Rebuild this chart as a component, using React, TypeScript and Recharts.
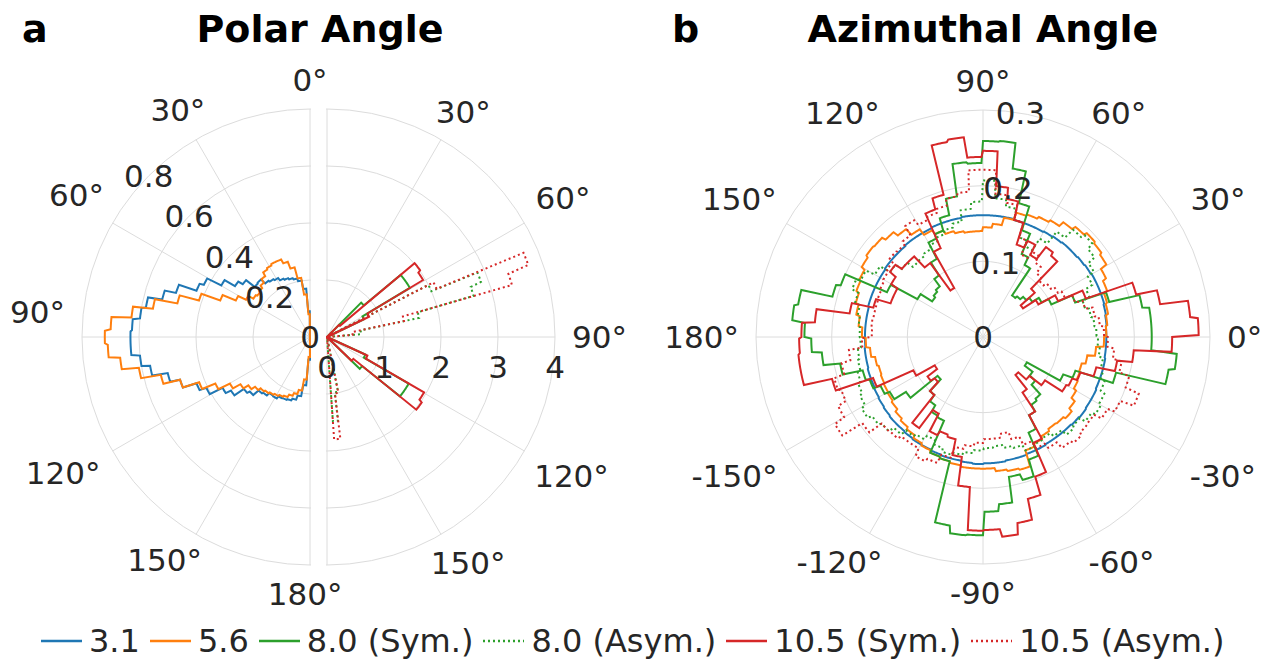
import React from 'react';
import { RadarChart, Radar, PolarGrid, PolarAngleAxis, PolarRadiusAxis } from 'recharts';

const COLORS = {
  BLUE: '#1f77b4',
  ORANGE: '#ff7f0e',
  GREEN: '#2ca02c',
  RED: '#d62728',
  GRID: '#dcdcdc',
  TEXT: '#262626',
};

const FONT = '"DejaVu Sans", sans-serif';
const TICK_FONT = 31;
const DOT = '2 3';
const W = 1276;
const H = 664;

// panel a, left half: polar angle histograms, 4° bins from 0° to 180°
const polarBinWidth = 4;
const polar31 = [
  0.09, 0.17, 0.2, 0.21, 0.215, 0.22, 0.225, 0.235, 0.24, 0.245,
  0.265, 0.262, 0.3, 0.318, 0.36, 0.415, 0.43, 0.495, 0.535, 0.585,
  0.6, 0.625, 0.63, 0.63, 0.6, 0.57, 0.515, 0.48, 0.43, 0.405,
  0.355, 0.335, 0.295, 0.285, 0.26, 0.255, 0.243, 0.245, 0.236, 0.235,
  0.232, 0.225, 0.21, 0.17, 0.08,
];
const polar56 = [
  0.08, 0.15, 0.21, 0.25, 0.275, 0.29, 0.29, 0.285, 0.28, 0.265,
  0.25, 0.24, 0.235, 0.24, 0.26, 0.29, 0.34, 0.41, 0.48, 0.56,
  0.63, 0.7, 0.72, 0.71, 0.67, 0.61, 0.54, 0.48, 0.42, 0.37,
  0.325, 0.295, 0.275, 0.26, 0.25, 0.245, 0.24, 0.235, 0.23, 0.225,
  0.215, 0.205, 0.19, 0.15, 0.07,
];

// panel a, right half: [from°, to°, value], zero elsewhere
const polar80Sym = [[45, 50, 0.85], [50, 60, 1.69], [60, 65, 0.72], [115, 120, 0.74], [120, 130, 1.65], [130, 135, 0.8]];
const polar80Asym = [[63, 67, 2.0], [67, 71, 2.87], [71, 75, 2.67], [75, 79, 1.65], [79, 86, 0.6], [169, 173, 0.98], [173, 177, 1.48]];
const polar105Sym = [[45, 50, 0.3], [50, 55, 2.01], [55, 60, 1.96], [60, 65, 0.82], [115, 120, 0.78], [120, 125, 1.96], [125, 130, 2.02], [130, 135, 0.6]];
const polar105Asym = [[63, 67, 2.1], [67, 71, 3.75], [71, 75, 3.37], [75, 79, 1.38], [79, 86, 0.45], [169, 173, 1.0], [173, 177, 1.8]];

// panel b: azimuthal histograms, 5° bins, first bin starts at -180°
const aziBinWidth = 5;
const azi31 = [
  0.156, 0.157, 0.157, 0.158, 0.158, 0.159, 0.16, 0.161, 0.162, 0.162,
  0.163, 0.164, 0.164, 0.165, 0.166, 0.166, 0.167, 0.168, 0.167, 0.167,
  0.166, 0.166, 0.165, 0.165, 0.164, 0.164, 0.164, 0.165, 0.166, 0.165,
  0.165, 0.164, 0.164, 0.164, 0.163, 0.163,
  0.163, 0.164, 0.165, 0.166, 0.166, 0.166, 0.165, 0.164, 0.163, 0.163,
  0.162, 0.161, 0.16, 0.16, 0.16, 0.161, 0.161, 0.161, 0.161, 0.161,
  0.16, 0.16, 0.16, 0.159, 0.159, 0.159, 0.158, 0.158, 0.158, 0.157,
  0.157, 0.157, 0.157, 0.156, 0.156, 0.156,
];
const azi56 = [
  0.155, 0.15, 0.145, 0.143, 0.144, 0.145, 0.146, 0.148, 0.152, 0.155,
  0.158, 0.162, 0.165, 0.168, 0.17, 0.172, 0.174, 0.174, 0.174, 0.178,
  0.18, 0.182, 0.16, 0.156, 0.152, 0.149, 0.15, 0.153, 0.148, 0.142,
  0.138, 0.136, 0.135, 0.14, 0.15, 0.16,
  0.163, 0.165, 0.168, 0.17, 0.175, 0.18, 0.189, 0.192, 0.194, 0.19,
  0.185, 0.178, 0.175, 0.172, 0.17, 0.16, 0.15, 0.145, 0.14, 0.14,
  0.142, 0.145, 0.15, 0.156, 0.165, 0.175, 0.182, 0.187, 0.188, 0.185,
  0.18, 0.178, 0.174, 0.17, 0.165, 0.16,
];
const azi80Sym = [
  0.227, 0.214, 0.192, 0.165, 0.16, 0.15, 0.143, 0.125, 0.079, 0.1,
  0.11, 0.12, 0.122, 0.168, 0.17, 0.253, 0.263, 0.262, 0.231, 0.222,
  0.188, 0.196, 0.173, 0.14, 0.12, 0.11, 0.107, 0.09, 0.08, 0.067,
  0.117, 0.13, 0.182, 0.249, 0.257, 0.223,
  0.223, 0.223, 0.214, 0.173, 0.13, 0.1, 0.09, 0.08, 0.075, 0.07,
  0.067, 0.11, 0.121, 0.15, 0.183, 0.226, 0.26, 0.259, 0.23, 0.232,
  0.189, 0.167, 0.15, 0.144, 0.12, 0.1, 0.088, 0.085, 0.082, 0.1,
  0.14, 0.2, 0.206, 0.248, 0.253, 0.236,
];
const azi80Asym = [
  0.162, 0.166, 0.168, 0.172, 0.176, 0.18, 0.186, 0.18, 0.176, 0.168,
  0.16, 0.156, 0.15, 0.156, 0.161, 0.158, 0.154, 0.15, 0.147, 0.145,
  0.149, 0.152, 0.16, 0.157, 0.155, 0.161, 0.17, 0.167, 0.175, 0.18,
  0.177, 0.171, 0.165, 0.161, 0.155, 0.152,
  0.15, 0.148, 0.145, 0.14, 0.15, 0.16, 0.17, 0.181, 0.19, 0.185,
  0.17, 0.15, 0.132, 0.14, 0.16, 0.175, 0.184, 0.207, 0.179, 0.17,
  0.155, 0.15, 0.145, 0.14, 0.135, 0.132, 0.131, 0.14, 0.15, 0.165,
  0.178, 0.184, 0.175, 0.168, 0.165, 0.163,
];
const azi105Sym = [
  0.243, 0.245, 0.245, 0.207, 0.155, 0.102, 0.074, 0.09, 0.084, 0.1,
  0.147, 0.117, 0.143, 0.137, 0.14, 0.161, 0.199, 0.256, 0.255, 0.265,
  0.25, 0.222, 0.197, 0.155, 0.12, 0.09, 0.066, 0.08, 0.1, 0.127,
  0.13, 0.137, 0.155, 0.18, 0.2, 0.25,
  0.285, 0.275, 0.238, 0.21, 0.145, 0.11, 0.085, 0.065, 0.09, 0.14,
  0.145, 0.125, 0.14, 0.13, 0.16, 0.185, 0.2, 0.246, 0.238, 0.265,
  0.262, 0.195, 0.18, 0.13, 0.075, 0.12, 0.14, 0.14, 0.15, 0.14,
  0.13, 0.13, 0.15, 0.179, 0.223, 0.24,
];
const azi105Asym = [
  0.16, 0.178, 0.19, 0.204, 0.2, 0.212, 0.227, 0.196, 0.176, 0.175,
  0.17, 0.17, 0.181, 0.177, 0.165, 0.15, 0.145, 0.14, 0.135, 0.135,
  0.13, 0.14, 0.152, 0.163, 0.17, 0.18, 0.184, 0.18, 0.179, 0.19,
  0.2, 0.219, 0.2, 0.186, 0.174, 0.165,
  0.16, 0.155, 0.15, 0.14, 0.13, 0.12, 0.115, 0.11, 0.105, 0.11,
  0.12, 0.13, 0.12, 0.14, 0.16, 0.18, 0.19, 0.221, 0.221, 0.193,
  0.189, 0.18, 0.175, 0.171, 0.179, 0.165, 0.16, 0.161, 0.155, 0.152,
  0.15, 0.148, 0.147, 0.147, 0.148, 0.147,
];

const polarTicks = [0, 30, 60, 90, 120, 150, 180];
const polarTicksInner = [30, 60, 90, 120, 150];
const aziTicks = [0, 30, 60, 90, 120, 150, 180, 210, 240, 270, 300, 330];
const leftRadiusTicks = [0, 0.2, 0.4, 0.6, 0.8];
const rightRadiusTicks = [0, 1, 2, 3, 4];
const aziRadiusTicks = [0, 0.1, 0.2, 0.3];

const SERIES = [
  { key: 's31', name: '3.1', color: COLORS.BLUE, dash: undefined as string | undefined },
  { key: 's56', name: '5.6', color: COLORS.ORANGE, dash: undefined },
  { key: 's80s', name: '8.0 (Sym.)', color: COLORS.GREEN, dash: undefined },
  { key: 's80a', name: '8.0 (Asym.)', color: COLORS.GREEN, dash: DOT },
  { key: 's105s', name: '10.5 (Sym.)', color: COLORS.RED, dash: undefined },
  { key: 's105a', name: '10.5 (Asym.)', color: COLORS.RED, dash: DOT },
];

// tables: one row every half degree so the steps look like arcs
const STEP = 0.5;
const inBins = (bins: number[][], t: number) => {
  const b = bins.find(([s, e]) => t >= s && t < e);
  return b ? b[2] : 0;
};
const polarSamples = Array.from({ length: 361 }, (_, i) => i * STEP);
const leftRows = polarSamples.map((t) => {
  const k = Math.min(polar31.length - 1, Math.floor(t / polarBinWidth));
  return { a: t, s31: polar31[k], s56: polar56[k] };
});
const rightRows = polarSamples.map((t) => ({
  a: t,
  s80s: inBins(polar80Sym, t),
  s80a: inBins(polar80Asym, t),
  s105s: inBins(polar105Sym, t),
  s105a: inBins(polar105Asym, t),
}));
const aziRows = Array.from({ length: 720 }, (_, i) => {
  const a = i * STEP;
  const signed = a >= 180 ? a - 360 : a;
  const k = Math.floor((signed + 180) / aziBinWidth);
  return {
    a,
    s31: azi31[k],
    s56: azi56[k],
    s80s: azi80Sym[k],
    s80a: azi80Asym[k],
    s105s: azi105Sym[k],
    s105a: azi105Asym[k],
  };
});

// geometry
const A_LEFT_CX = 310;
const A_RIGHT_CX = 327;
const A_CY = 337;
const A_R = 228;
const B_CX = 983;
const B_CY = 337;
const B_R = 227;

const textWidth = (s: string) =>
  [...s].reduce((w, c) => w + (c === '°' ? 0.5 : c === '-' ? 0.361 : c === '.' ? 0.318 : 0.636), 0);

// label box pushed outward like matplotlib's theta labels
const angleTick = (cx: number, cy: number, r: number, format: (v: number) => string | null) =>
  (props: any) => {
    const label = format(Number(props.payload.value));
    if (label == null) return <g />;
    const rad = (Math.round(props.payload.coordinate) * Math.PI) / 180;
    const w = textWidth(label) * TICK_FONT;
    const c = Math.cos(rad);
    const s = Math.sin(rad);
    const dx = c * (r + 17 + w / 2);
    const sy = Math.abs(s) < 1e-6 ? 0 : Math.sign(s);
    const dy = s * (r + 8) + sy * 21;
    return (
      <text x={cx + dx} y={cy - dy + TICK_FONT * 0.36} textAnchor="middle" fontSize={TICK_FONT} fontFamily={FONT}
        fill={COLORS.TEXT}>
        {label}
      </text>
    );
  };

const radiusTick = (cx: number, cy: number, angle: number, dy: number) =>
  (props: any) => {
    const rad = (angle * Math.PI) / 180;
    const r = props.payload.coordinate;
    const x = cx + r * Math.cos(rad);
    const y = cy - r * Math.sin(rad) + dy;
    return (
      <text x={x} y={y + TICK_FONT * 0.36} textAnchor="middle" fontSize={TICK_FONT} fontFamily={FONT} fill={COLORS.TEXT}>
        {String(props.payload.value)}
      </text>
    );
  };

const polarFormat = (v: number) => (v % 30 === 0 ? `${v}°` : null);
const aziFormat = (v: number) => (v % 30 === 0 ? `${v > 180 ? v - 360 : v}°` : null);

const NO_MARGIN = { top: 0, right: 0, bottom: 0, left: 0 };

const seriesLines = (keys: string[], hidden = false) =>
  SERIES.filter((s) => keys.includes(s.key)).map((s) => (
    <Radar
      key={s.key}
      name={s.name}
      dataKey={s.key}
      stroke={hidden ? 'none' : s.color}
      strokeWidth={2}
      strokeDasharray={s.dash}
      fill="none"
      fillOpacity={0}
      dot={false}
      isAnimationActive={false}
    />
  ));

const radiusAxis = (domain: number[], ticks: number[], extra: any) => (
  <PolarRadiusAxis type="number" scale="linear" domain={domain} allowDataOverflow allowDecimals
    tickCount={ticks.length} ticks={ticks} axisLine={false} tickLine={false} {...extra} />
);

// half of panel a: grid + histograms (clipped), labels in a second, unclipped layer
const HalfPolar = ({ rows, cx, side, domain, rTicks, keys }: any) => {
  const startAngle = 90;
  const endAngle = side === 'left' ? 270 : -90;
  const gridAngles = polarTicks.map((t) => (side === 'left' ? 90 + t : 90 - t));
  const clipLeft = side === 'left' ? 0 : cx - 1;
  const clipWidth = side === 'left' ? cx + 1 : 300;
  const rAngle = side === 'left' ? 135 : 0;
  return (
    <>
      <div style={{ position: 'absolute', left: clipLeft, top: 0, width: clipWidth, height: H, overflow: 'hidden' }}>
        <div style={{ position: 'absolute', left: -clipLeft, top: 0 }}>
          <RadarChart width={W} height={H} data={rows} cx={cx} cy={A_CY} outerRadius={A_R} innerRadius={0}
            startAngle={startAngle} endAngle={endAngle} margin={NO_MARGIN}>
            <PolarGrid gridType="circle" polarAngles={gridAngles} stroke={COLORS.GRID} strokeWidth={1} />
            <PolarAngleAxis dataKey="a" ticks={polarTicks} tick={false} axisLine={false} tickLine={false} />
            {radiusAxis(domain, rTicks, { tick: false })}
            {seriesLines(keys)}
          </RadarChart>
        </div>
      </div>
      <div style={{ position: 'absolute', left: 0, top: 0 }}>
        <RadarChart width={W} height={H} data={rows} cx={cx} cy={A_CY} outerRadius={A_R} innerRadius={0}
          startAngle={startAngle} endAngle={endAngle} margin={NO_MARGIN}>
          <PolarAngleAxis dataKey="a" ticks={side === 'left' ? polarTicks : polarTicksInner}
            tick={angleTick(cx, A_CY, A_R, polarFormat)} axisLine={false} tickLine={false} />
          {radiusAxis(domain, rTicks, { angle: rAngle, tick: radiusTick(cx, A_CY, rAngle, side === 'left' ? 0 : 30) })}
          {seriesLines(keys, true)}
        </RadarChart>
      </div>
    </>
  );
};

const Legend = () => (
  <div style={{ position: 'absolute', left: 41, top: 621, display: 'flex', alignItems: 'center', fontFamily: FONT,
    fontSize: 32, color: COLORS.TEXT, lineHeight: '40px', whiteSpace: 'nowrap' }}>
    {SERIES.map((s) => (
      <div key={s.key} style={{ display: 'flex', alignItems: 'center', marginRight: 10 }}>
        <svg width={41} height={10}>
          <line x1={0} y1={5} x2={41} y2={5} stroke={s.color} strokeWidth={2.5} strokeDasharray={s.dash} />
        </svg>
        <span style={{ marginLeft: 7 }}>{s.name}</span>
      </div>
    ))}
  </div>
);

export default function App() {
  return (
    <div style={{ position: 'relative', width: W, height: H, background: '#fff', overflow: 'hidden' }}>
      <style>{'body{margin:0}'}</style>

      <HalfPolar rows={leftRows} cx={A_LEFT_CX} side="left" domain={[0, 0.8]} rTicks={leftRadiusTicks} keys={['s31', 's56']} />
      <HalfPolar rows={rightRows} cx={A_RIGHT_CX} side="right" domain={[0, 4]} rTicks={rightRadiusTicks}
        keys={['s80s', 's80a', 's105s', 's105a']} />

      <div style={{ position: 'absolute', left: 0, top: 0 }}>
        <RadarChart width={W} height={H} data={aziRows} cx={B_CX} cy={B_CY} outerRadius={B_R} innerRadius={0}
          startAngle={0} endAngle={360} margin={NO_MARGIN}>
          <PolarGrid gridType="circle" polarAngles={aziTicks} stroke={COLORS.GRID} strokeWidth={1} />
          <PolarAngleAxis dataKey="a" ticks={aziTicks} tick={angleTick(B_CX, B_CY, B_R, aziFormat)}
            axisLine={false} tickLine={false} />
          {radiusAxis([0, 0.3], aziRadiusTicks, { angle: 80.5, tick: radiusTick(B_CX, B_CY, 80.5, 0) })}
          {seriesLines(SERIES.map((s) => s.key))}
        </RadarChart>
      </div>

      <svg width={W} height={H} style={{ position: 'absolute', left: 0, top: 0, pointerEvents: 'none' }}>
        <g fontFamily={FONT} fontWeight="bold" fontSize={38} fill="#000">
          <text x={22} y={42}>a</text>
          <text x={320} y={42} textAnchor="middle">Polar Angle</text>
          <text x={672} y={42}>b</text>
          <text x={983} y={42} textAnchor="middle">Azimuthal Angle</text>
        </g>
      </svg>

      <Legend />
    </div>
  );
}
